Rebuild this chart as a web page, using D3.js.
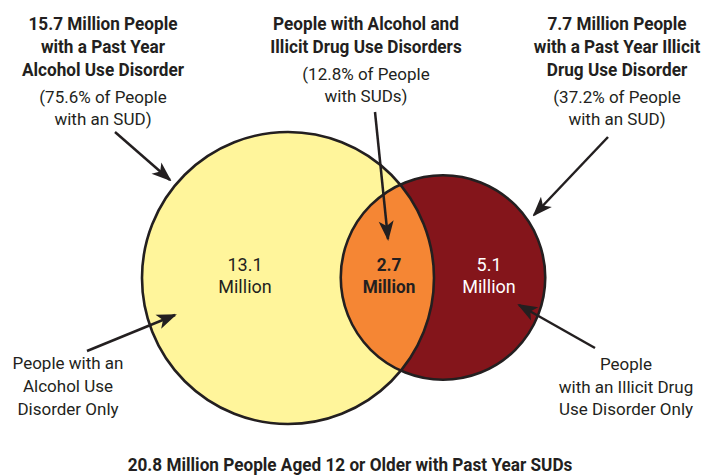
<!DOCTYPE html>
<html lang="en">
<head>
<meta charset="UTF-8">
<title>SUD venn</title>
<script src="https://d3js.org/d3.v7.min.js"></script>
<style>
    body { margin: 0; background: #fff; }
    svg text {
        font-family: "Liberation Sans Narrow", "Arial Narrow", "Roboto", sans-serif;
        fill: #231f20;
    }
</style>
</head>
<body>
<script>
// data: millions of people aged 12+ with past year SUDs
var setNames = ["Alcohol", "Illicit"],
    setTotals = [15.7, 7.7],
    overlapValue = 2.7,
    regionValues = [13.1, 2.7, 5.1],
    totalValue = 20.8;

var titleLines = [
    ["15.7 Million People", "with a Past Year", "Alcohol Use Disorder"],
    ["People with Alcohol and", "Illicit Drug Use Disorders"],
    ["7.7 Million People", "with a Past Year Illicit", "Drug Use Disorder"]
];
var pctLines = [
    ["(75.6% of People", "with an SUD)"],
    ["(12.8% of People", "with SUDs)"],
    ["(37.2% of People", "with an SUD)"]
];
var onlyLabels = [
    ["People with an", "Alcohol Use", "Disorder Only"],
    ["People", "with an Illicit Drug", "Use Disorder Only"]
];
var footer = "20.8 Million People Aged 12 or Older with Past Year SUDs";

var width = 717, height = 475,
    boldSquash = 0.955; // bold face runs a bit wide vs the condensed original

var svg = d3.select("body").append("svg")
    .attr("width", width)
    .attr("height", height);

// circle area proportional to set size
var r = d3.scaleSqrt().domain([0, setTotals[0]]).range([0, 146]);
var centers = [[288, 278], [443, 277.5]];

var circles = setTotals.map(function (v, i) {
    return { name: setNames[i], value: v, cx: centers[i][0], cy: centers[i][1], r: r(v) };
});

svg.append("clipPath").attr("id", "clipBig")
    .append("circle")
    .attr("cx", circles[0].cx).attr("cy", circles[0].cy).attr("r", circles[0].r);

var g = svg.append("g");

g.append("circle")
    .attr("cx", circles[0].cx).attr("cy", circles[0].cy).attr("r", circles[0].r)
    .style("fill", "#fff59b");
g.append("circle")
    .attr("cx", circles[1].cx).attr("cy", circles[1].cy).attr("r", circles[1].r)
    .style("fill", "#84151b");
// intersection
g.append("circle")
    .attr("clip-path", "url(#clipBig)")
    .attr("cx", circles[1].cx).attr("cy", circles[1].cy).attr("r", circles[1].r)
    .style("fill", "#f58634");

g.selectAll("circle.outline")
    .data(circles)
    .enter().append("circle")
    .attr("class", "outline")
    .attr("cx", function (d) { return d.cx; })
    .attr("cy", function (d) { return d.cy; })
    .attr("r", function (d) { return d.r; })
    .style("fill", "none")
    .style("stroke", "#231f20")
    .style("stroke-width", 2.6);

// multi-line text helper, bold gets squeezed a little
function lines(parent, arr, x, y, size, weight, lh, color) {
    var sx = weight === "bold" ? boldSquash : 1;
    var t = parent.append("g")
        .attr("transform", "translate(" + x + ",0) scale(" + sx + ",1)")
        .append("text")
        .attr("text-anchor", "middle")
        .style("font-size", size + "px")
        .style("font-weight", weight);
    if (color) t.style("fill", color);
    arr.forEach(function (s, i) {
        t.append("tspan").attr("x", 0).attr("y", y + i * lh).text(s);
    });
}

// region value labels
var regionPos = [[245, 271], [389, 271], [489, 271]];
var regionStyle = [
    { fill: "#231f20", weight: "normal" },
    { fill: "#231f20", weight: "bold" },
    { fill: "#ffffff", weight: "normal" }
];
regionValues.forEach(function (v, i) {
    lines(g, [d3.format(".1f")(v), "Million"], regionPos[i][0], regionPos[i][1],
        18, regionStyle[i].weight, 22, regionStyle[i].fill);
});

var titleX = [103, 366, 617];
var pctY = [103, 80, 103];
titleLines.forEach(function (l, i) {
    lines(svg, l, titleX[i], 30, 18, "bold", 23);
    lines(svg, pctLines[i], titleX[i], pctY[i], 17, "normal", 22);
});

lines(svg, onlyLabels[0], 68, 369, 17, "normal", 23);
lines(svg, onlyLabels[1], 626, 370, 17, "normal", 22.5);

lines(svg, [footer], 350, 471, 18, "bold", 0);

// arrows
svg.append("defs").append("marker")
    .attr("id", "head")
    .attr("markerUnits", "userSpaceOnUse")
    .attr("viewBox", "-20 -8 22 16")
    .attr("refX", 0).attr("refY", 0)
    .attr("markerWidth", 22).attr("markerHeight", 16)
    .attr("orient", "auto")
    .append("path")
    .attr("d", "M2,0 L-18,-7.5 L-13,0 L-18,7.5 Z")
    .style("fill", "#231f20");

var arrows = [
    [[115, 132], [170, 180]],
    [[375, 112], [388, 239]],
    [[608, 137], [534, 215]],
    [[87, 351], [175, 315]],
    [[595, 348], [519, 305]]
];
svg.selectAll("line.arrow")
    .data(arrows)
    .enter().append("line")
    .attr("class", "arrow")
    .attr("x1", function (d) { return d[0][0]; })
    .attr("y1", function (d) { return d[0][1]; })
    .attr("x2", function (d) { return d[1][0]; })
    .attr("y2", function (d) { return d[1][1]; })
    .style("stroke", "#231f20")
    .style("stroke-width", 2.5)
    .attr("marker-end", "url(#head)");
</script>
</body>
</html>
